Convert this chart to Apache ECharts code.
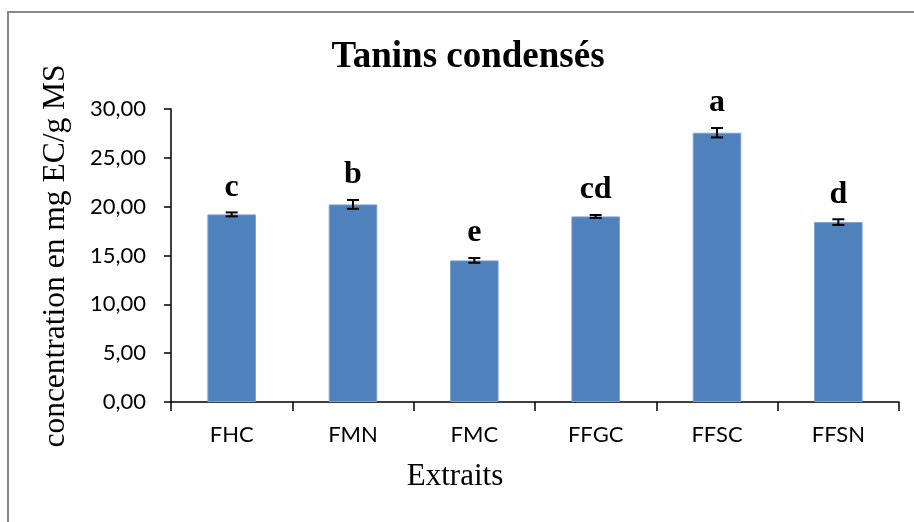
<!DOCTYPE html>
<html>
<head>
<meta charset="utf-8">
<script src="https://cdn.jsdelivr.net/npm/echarts@6/dist/echarts.min.js"></script>
<style>
  html, body { margin: 0; padding: 0; background: #ffffff; }
  #chart { width: 914px; height: 522px; }
</style>
</head>
<body>
<div id="chart"></div>
<script>
// Extract names on the category axis
const categories = ['FHC', 'FMN', 'FMC', 'FFGC', 'FFSC', 'FFSN'];
// Mean condensed tannin content (mg EC/g MS)
const means = [19.21, 20.23, 14.50, 19.00, 27.57, 18.42];
// Standard deviation drawn as error bars
const errors = [0.20, 0.45, 0.24, 0.15, 0.48, 0.29];
// Significance group letters shown above each bar
const letters = ['c', 'b', 'e', 'cd', 'a', 'd'];
// Value axis ticks
const yTicks = { min: 0, max: 30, interval: 5 };

const chart = echarts.init(document.getElementById('chart'), null, { renderer: 'canvas' });

const serif = '"Liberation Serif", "Times New Roman", serif';
const sans = 'Lato, "Open Sans", sans-serif';

const errorData = means.map((m, i) => [i, m, errors[i]]);

function renderErrorBar(params, api) {
  const i = api.value(0);
  const m = api.value(1);
  const e = api.value(2);
  const hi = api.coord([i, m + e]);
  const lo = api.coord([i, m - e]);
  const cap = 6;
  const lineStyle = { stroke: '#000000', lineWidth: 2 };
  return {
    type: 'group',
    children: [
      { type: 'line', shape: { x1: hi[0], y1: hi[1], x2: lo[0], y2: lo[1] }, style: lineStyle },
      { type: 'line', shape: { x1: hi[0] - cap, y1: hi[1], x2: hi[0] + cap, y2: hi[1] }, style: lineStyle },
      { type: 'line', shape: { x1: lo[0] - cap, y1: lo[1], x2: lo[0] + cap, y2: lo[1] }, style: lineStyle },
      {
        type: 'text',
        style: {
          x: hi[0], y: hi[1] - 9,
          text: letters[params.dataIndex],
          align: 'center', verticalAlign: 'bottom',
          font: 'bold 32px ' + serif,
          fill: '#000000'
        }
      }
    ]
  };
}

chart.setOption({
  animation: false,
  backgroundColor: '#ffffff',
  grid: { left: 171, right: 15, top: 109, bottom: 120, containLabel: false },
  graphic: [
    {
      type: 'rect', silent: true, z: -1,
      shape: { x: 8, y: 12, width: 940, height: 560 },
      style: { fill: 'none', stroke: '#878787', lineWidth: 2 }
    },
    {
      type: 'text',
      style: {
        x: 468, y: 57, text: 'Tanins condensés',
        align: 'center', verticalAlign: 'middle',
        font: 'bold 37px ' + serif, fill: '#000000'
      }
    },
    {
      type: 'text',
      style: {
        x: 455, y: 477, text: 'Extraits',
        align: 'center', verticalAlign: 'middle',
        font: '31px ' + serif, fill: '#000000'
      }
    },
    {
      type: 'text',
      x: 56, y: 256, rotation: Math.PI / 2,
      style: {
        x: 0, y: 0, text: 'concentration en mg EC/g MS',
        align: 'center', verticalAlign: 'middle',
        font: '31.5px ' + serif, fill: '#000000'
      }
    }
  ],
  xAxis: {
    type: 'category',
    data: categories,
    boundaryGap: true,
    axisLine: { show: true, lineStyle: { color: '#000000', width: 1.5 } },
    axisTick: { show: true, alignWithLabel: false, length: 9, lineStyle: { color: '#000000', width: 1.5 } },
    axisLabel: { margin: 22, color: '#000000', fontFamily: sans, fontSize: 22 },
    splitLine: { show: false }
  },
  yAxis: {
    type: 'value',
    min: yTicks.min, max: yTicks.max, interval: yTicks.interval,
    axisLine: { show: true, lineStyle: { color: '#000000', width: 1.5 } },
    axisTick: { show: true, inside: false, length: 7, lineStyle: { color: '#000000', width: 1.5 } },
    axisLabel: {
      margin: 25, color: '#000000', fontFamily: sans, fontSize: 22,
      formatter: v => v.toFixed(2).replace('.', ',')
    },
    splitLine: { show: false }
  },
  series: [
    {
      type: 'bar',
      data: means,
      barWidth: '40%',
      itemStyle: { color: '#4F81BD', borderColor: '#7C9FCE', borderWidth: 1 }
    },
    {
      type: 'custom',
      data: errorData,
      renderItem: renderErrorBar,
      z: 5
    }
  ]
});
</script>
</body>
</html>
